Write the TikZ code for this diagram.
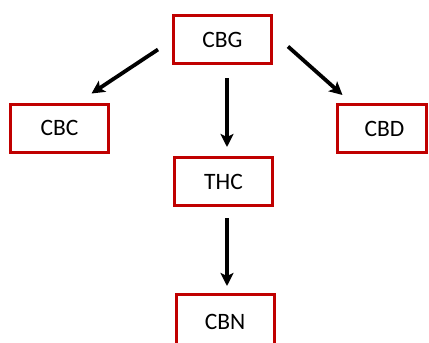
\documentclass[tikz,border=0pt]{standalone}
\usepackage{fontspec}
\setmainfont{Carlito}
\usetikzlibrary{arrows.meta}
\definecolor{boxred}{RGB}{192,0,0}
\begin{document}
\begin{tikzpicture}[x=1pt,y=-1pt,
  cbox/.style={draw=boxred,line width=3pt,minimum width=98pt,minimum height=48pt,inner sep=0pt,font=\fontsize{23.5}{26}\selectfont,text=black},
  arr/.style={line width=3.8pt,-{Stealth[length=13pt,width=13pt,inset=3pt]}}]
\useasboundingbox (0,0) rectangle (429,343);
\node[cbox] (cbg) at (222.5,39.5) {CBG};
\node[cbox] (cbc) at (59.5,128) {CBC};
\node[cbox,minimum width=89pt] (cbd) at (381.5,128.5) {\hspace*{6pt}CBD};
\node[cbox] (thc) at (223.5,181.5) {THC};
\node[cbox,minimum height=60pt] (cbn) at (225,324.5) {\raisebox{6pt}{CBN}};
\draw[arr] ([xshift=-14pt,yshift=-10pt]cbg.west) -- ([xshift=32pt,yshift=9pt]cbc.north);
\draw[arr] ([xshift=15pt,yshift=-7pt]cbg.east) -- ([xshift=7pt,yshift=8pt]cbd.north west);
\draw[arr] ([xshift=4.5pt,yshift=-13pt]cbg.south) -- ([xshift=3.5pt,yshift=9pt]thc.north);
\draw[arr] ([xshift=3.5pt,yshift=-11pt]thc.south) -- ([xshift=2pt,yshift=7pt]cbn.north);
\end{tikzpicture}
\end{document}
